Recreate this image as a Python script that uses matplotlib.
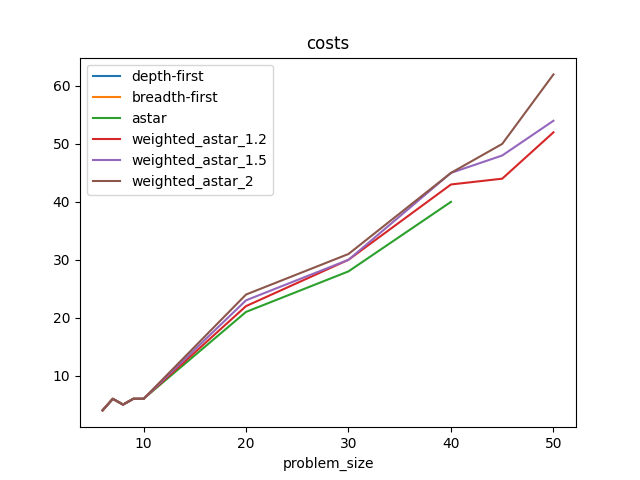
import matplotlib
matplotlib.use("Agg")
import matplotlib.pyplot as plt

sizes_small = [6, 7, 8, 9, 10]
small_costs = [4, 6, 5, 6, 6]

depth_first_x = sizes_small
depth_first_y = small_costs
breadth_first_x = sizes_small
breadth_first_y = small_costs
astar_x = [6, 7, 8, 9, 10, 20, 30, 40]
astar_y = [4, 6, 5, 6, 6, 21, 28, 40]
wa12_x = [6, 7, 8, 9, 10, 20, 30, 40, 45, 50]
wa12_y = [4, 6, 5, 6, 6, 22, 30, 43, 44, 52]
wa15_x = [6, 7, 8, 9, 10, 20, 30, 40, 45, 50]
wa15_y = [4, 6, 5, 6, 6, 23, 30, 45, 48, 54]
wa2_x = [6, 7, 8, 9, 10, 20, 30, 40, 45, 50]
wa2_y = [4, 6, 5, 6, 6, 24, 31, 45, 50, 62]

fig, ax = plt.subplots(figsize=(6.4, 4.8), dpi=100)
ax.plot(depth_first_x, depth_first_y, label="depth-first")
ax.plot(breadth_first_x, breadth_first_y, label="breadth-first")
ax.plot(astar_x, astar_y, label="astar")
ax.plot(wa12_x, wa12_y, label="weighted_astar_1.2")
ax.plot(wa15_x, wa15_y, label="weighted_astar_1.5")
ax.plot(wa2_x, wa2_y, label="weighted_astar_2")
ax.set_title("costs")
ax.set_xlabel("problem_size")
ax.legend(loc="upper left")
fig.savefig("out.png")
